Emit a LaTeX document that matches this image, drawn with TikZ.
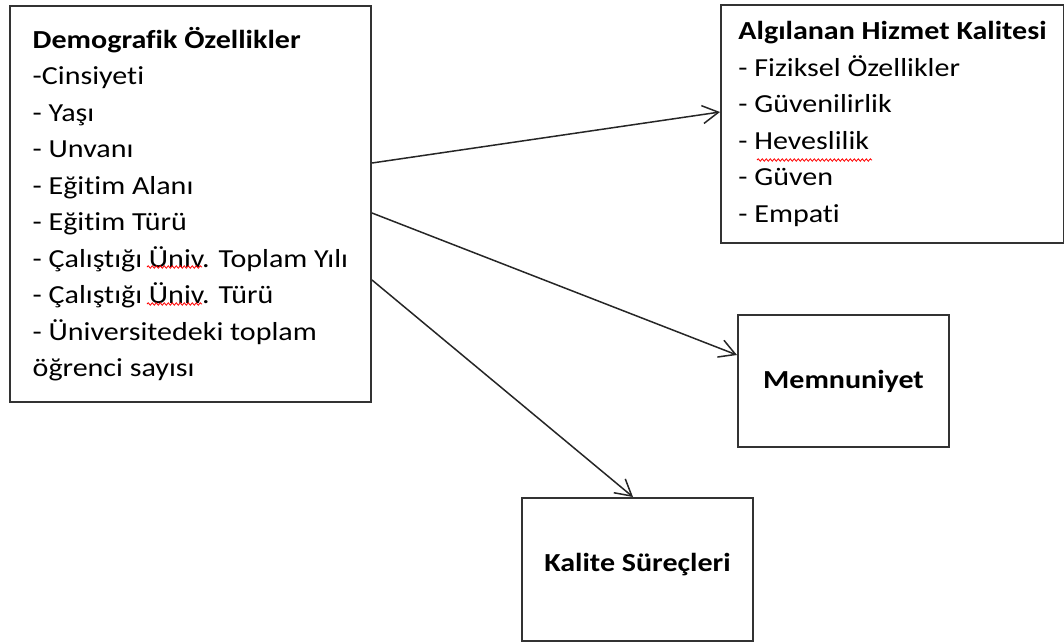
\documentclass[tikz,border=0pt]{standalone}
\usepackage{fontspec}
\setmainfont{Carlito}[FakeStretch=1.155,Ligatures=NoCommon]
\usetikzlibrary{arrows.meta,decorations.pathmorphing}

\begin{document}
\begin{tikzpicture}[x=1pt,y=-1pt,
	box/.style={draw=black!80, line width=2pt, inner sep=0pt, anchor=north west},
	listbox/.style={box, align=left, font=\fontsize{26}{36.5}\selectfont},
	titlebox/.style={box, font=\fontsize{26}{30}\selectfont\bfseries},
	link/.style={draw=black!85, line width=1.5pt, -{Straight Barb[length=16pt,width=18pt]}},
	typo/.style={draw=red, line width=0.8pt, decorate, decoration={snake, segment length=4pt, amplitude=1.2pt}}]
			%fix the frame
			\useasboundingbox (0,0) rectangle (1064,641);
			%draw boxes
			\node[listbox, minimum width=361pt, minimum height=396pt] (demog) at (9,5) {\textbf{Demografik Özellikler}\\-Cinsiyeti\\- Yaşı\\- Unvanı\\- Eğitim Alanı\\- Eğitim Türü\\- Çalıştığı Üniv. Toplam Yılı\\- Çalıştığı Üniv. Türü\\- Üniversitedeki toplam\\öğrenci sayısı};
			\node[listbox, minimum width=343pt, minimum height=238pt] (quality) at (720,4) {\textbf{Algılanan Hizmet Kalitesi}\\- Fiziksel Özellikler\\- Güvenilirlik\\- Heveslilik\\- Güven\\- Empati};
			\node[titlebox, minimum width=211pt, minimum height=132pt] (satisf) at (737,314) {Memnuniyet};
			\node[titlebox, minimum width=231pt, minimum height=143pt, text depth=14pt] (process) at (521,497) {Kalite Süreçleri};
			%draw spelling marks
			\draw[typo] (147,267) -- (202,267);
			\draw[typo] (147,304) -- (202,304);
			\draw[typo] (757,160) -- (872,160);
			%draw arrows
			\draw[link] ([yshift=-158pt]demog.north east) -- ([yshift=-108pt]quality.north west);
			\draw[link] ([yshift=-208pt]demog.north east) -- ([yshift=-41pt]satisf.north west);
			\draw[link] ([yshift=-275pt]demog.north east) -- ([xshift=112pt]process.north west);
\end{tikzpicture}
\end{document}
